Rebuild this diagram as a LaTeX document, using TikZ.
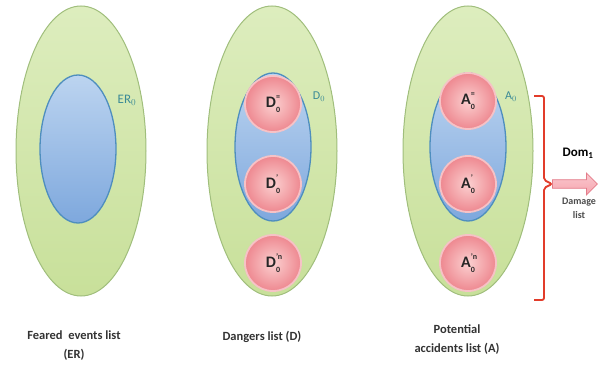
\documentclass[tikz,border=0pt]{standalone}
\usepackage{fontspec}
\setmainfont{Carlito}
\usetikzlibrary{shapes.geometric,shapes.arrows,positioning}
\definecolor{grtop}{HTML}{DDEDBE}
\definecolor{grbot}{HTML}{C8E09A}
\definecolor{grline}{HTML}{A0BE7C}
\definecolor{bltop}{HTML}{BCD4F0}
\definecolor{blbot}{HTML}{7EA8DD}
\definecolor{blline}{HTML}{4E8EBE}
\definecolor{pkin}{HTML}{FBD0D0}
\definecolor{pkout}{HTML}{EE8890}
\definecolor{pkline}{HTML}{F6C2C6}
\definecolor{teal}{HTML}{3B8A96}
\definecolor{bracered}{HTML}{E23C2A}
\definecolor{arrfill}{HTML}{F6A4AE}
\definecolor{arrline}{HTML}{E47C8A}
\newcommand{\bl}[2]{#1\rlap{\raisebox{8.5pt}{\fontsize{8}{8}\selectfont #2}}\raisebox{-4.5pt}{\fontsize{8}{8}\selectfont 0}}
\tikzset{
  outer/.style={ellipse, draw=grline, line width=1pt, top color=grtop, bottom color=grbot, minimum width=130pt, minimum height=290pt, inner sep=0pt},
  inner/.style={ellipse, draw=blline, line width=1.3pt, top color=bltop, bottom color=blbot, minimum width=76pt, minimum height=148pt, inner sep=0pt},
  ball/.style={circle, draw=pkline, line width=1.8pt, inner color=pkin, outer color=pkout, minimum size=56pt, inner sep=0pt, font=\bfseries\fontsize{16}{16}\selectfont, text=black!85},
  setlabel/.style={text=teal, font=\fontsize{12}{12}\selectfont, inner sep=0pt},
  caption/.style={font=\bfseries\fontsize{12.5}{19}\selectfont, text=black!80, align=center, inner sep=0pt},
}
\begin{document}
\begin{tikzpicture}[x=1pt,y=-1pt]
\useasboundingbox (0,0) rectangle (606,369);
% left group
\node[outer] (gE) at (81,151) {};
\node[inner] (bE) at (78,149) {};
\node[setlabel, font=\rmfamily\fontsize{13}{13}\selectfont] (lE) at (127,100) {ER$_0$};
% middle group
\node[outer] (gD) at (272,151) {};
\node[inner] (bD) at (273,147) {};
\node[ball] (d1) at (273,104) {\bl{D}{=}};
\node[ball] (d2) at (273,184) {\bl{D}{'}};
\node[ball] (d3) at (273,263) {\bl{D}{'n}};
\node[setlabel] (lD) at (319,97) {D$_0$};
% right group
\node[outer] (gA) at (468,151) {};
\node[inner] (bA) at (468,147) {};
\node[ball] (a1) at (468,101) {\bl{A}{=}};
\node[ball] (a2) at (468,184) {\bl{A}{'}};
\node[ball] (a3) at (468,263) {\bl{A}{'n}};
\node[setlabel] (lA) at (511,97) {A$_0$};
% brace
\coordinate (bt) at (534,96);
\coordinate (bb) at (534,300);
\coordinate (btip) at (552,184);
\draw[bracered, line width=1.8pt, rounded corners=2pt]
  (bt) -- (544,96) -- (544,180) -- (btip) -- (544,188) -- (544,300) -- (bb);
% arrow
\node[single arrow, draw=arrline, line width=0.8pt, top color=arrfill!60, bottom color=arrfill, minimum height=45pt, minimum width=22pt, single arrow head extend=3pt, inner sep=1.5pt, anchor=west] (arr) at (btip) {};
\node[font=\bfseries\fontsize{13}{13}\selectfont, inner sep=0pt] (dom) at (578,153) {Dom$_{\mathbf 1}$};
\node[caption, font=\bfseries\fontsize{10}{14}\selectfont, text=black!70] (dmg) at (579,208) {Damage\\list};
% captions
\node[caption] (cE) at (74,346) {Feared\ \ events list\\(ER)};
\node[caption] (cD) at (262,337) {Dangers list (D)};
\node[caption] (cA) at (457,340) {Potential\\accidents list (A)};
\end{tikzpicture}
\end{document}
